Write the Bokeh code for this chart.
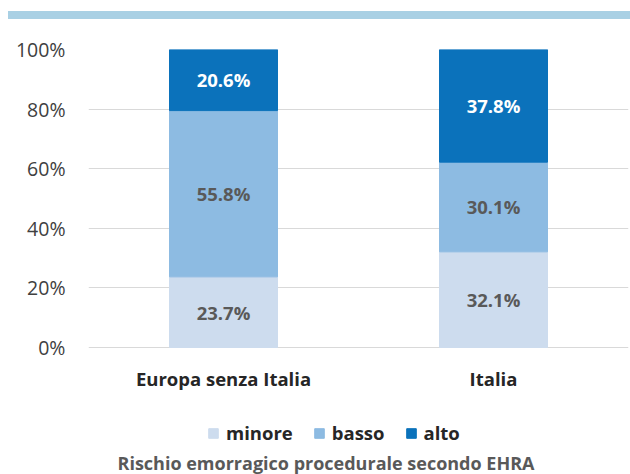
from bokeh.plotting import figure
from bokeh.models import (ColumnDataSource, FactorRange, Range1d, FixedTicker,
                          PrintfTickFormatter, Legend, LegendItem, LabelSet,
                          Title, Spacer)
from bokeh.layouts import column, row
from bokeh.core.properties import value
from bokeh.embed import file_html
from bokeh.resources import INLINE

categories = ["Europa senza Italia", "Italia"]
series = ["minore", "basso", "alto"]
minore = [23.7, 32.1]
basso = [55.8, 30.1]
alto = [20.6, 37.8]
colors = ["#cddcee", "#8dbbe2", "#0b72bb"]
label_colors = ["#595959", "#595959", "#ffffff"]
y_ticks = [0, 20, 40, 60, 80, 100]
title_text = "Rischio emorragico procedurale secondo EHRA"

FONT = "Open Sans"
BAND = "#a9d0e4"

# decorative top band
band = Spacer(width=622, height=8, styles={"background-color": BAND})

data = {"cat": categories, "minore": minore, "basso": basso, "alto": alto}
source = ColumnDataSource(data)

# frame extends below the 0% baseline to host category labels and legend
FRAME_H = 399
PX_PER_100 = 298.0
y_start = -100.0 * (FRAME_H - PX_PER_100) / PX_PER_100

p = figure(frame_width=540, frame_height=FRAME_H,
           x_range=FactorRange(*categories), y_range=Range1d(y_start, 100),
           toolbar_location=None, output_backend="svg", x_axis_location=None,
           min_border_left=88, min_border_right=2, min_border_top=30, min_border_bottom=0,
           outline_line_color=None)

renderers = p.vbar_stack(series, x="cat", width=0.4, color=colors, source=source)

# segment labels
lx, ly, lt, lc = [], [], [], []
for i, cat in enumerate(categories):
    base = 0.0
    for s, col in zip(series, label_colors):
        v = data[s][i]
        lx.append(cat)
        ly.append(base + v / 2)
        lt.append(f"{v:.1f}%")
        lc.append(col)
        base += v
lsrc = ColumnDataSource(dict(x=lx, y=ly, text=lt, color=lc))
p.add_layout(LabelSet(x="x", y="y", text="text", source=lsrc, text_color="color",
                      text_align="center", text_baseline="middle",
                      text_font=value(FONT), text_font_size="18.5px", text_font_style="bold"))

# category labels under the baseline
csrc = ColumnDataSource(dict(x=categories, y=[0] * len(categories), text=categories))
p.add_layout(LabelSet(x="x", y="y", text="text", source=csrc, y_offset=-31,
                      text_align="center", text_baseline="middle", text_color="#262626",
                      text_font=value(FONT), text_font_size="18.5px", text_font_style="bold"))

p.yaxis.ticker = FixedTicker(ticks=y_ticks)
p.yaxis.formatter = PrintfTickFormatter(format="%d%%")
p.yaxis.axis_line_color = None
p.yaxis.major_tick_line_color = None
p.yaxis.minor_tick_line_color = None
p.yaxis.major_label_standoff = 17
p.yaxis.major_label_text_font = FONT
p.yaxis.major_label_text_font_size = "19.5px"
p.yaxis.major_label_text_color = "#404040"

p.xgrid.grid_line_color = None
p.ygrid.grid_line_color = "#d9d9d9"
p.ygrid.ticker = FixedTicker(ticks=y_ticks)

items = [LegendItem(label=s, renderers=[r]) for s, r in zip(series, renderers)]
legend = Legend(items=items, orientation="horizontal", location=(119, 3),
                padding=0, margin=0, spacing=20, label_standoff=7,
                glyph_width=12, glyph_height=12,
                label_text_font=FONT, label_text_font_size="18.5px",
                label_text_font_style="bold", label_text_color="#262626",
                border_line_color=None, background_fill_alpha=0)
p.add_layout(legend)

title = Title(text=title_text, align="left", offset=29, standoff=0,
              text_font=FONT, text_font_size="18px", text_font_style="bold",
              text_color="#595959")
p.add_layout(title, "below")

layout = column(Spacer(width=630, height=11),
                row(Spacer(width=8, height=8), band, spacing=0),
                p, spacing=0)
open("out.html", "w").write(file_html(layout, INLINE))
